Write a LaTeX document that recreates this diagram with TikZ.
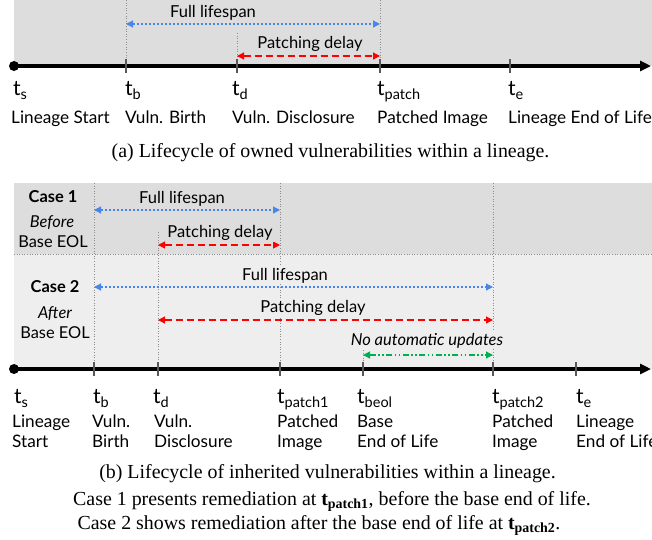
\documentclass[tikz,border=0pt]{standalone}
\usepackage{fontspec}
\setmainfont{Lato}
\newfontfamily\capfont{Liberation Serif}
\usetikzlibrary{arrows.meta}
\definecolor{bgA}{HTML}{DDDDDD}
\definecolor{bgB}{HTML}{EEEEEE}
\definecolor{lsblue}{HTML}{4A86E8}
\definecolor{pdred}{HTML}{FF0000}
\definecolor{nagreen}{HTML}{00B050}
\newcommand\tksub[1]{{\fontsize{21}{24}\selectfont t\raisebox{-4.5pt}{\fontsize{14.5}{16}\selectfont #1}}}
\tikzset{
  guide/.style={draw=black!45, dotted, line width=0.6pt},
  tickmark/.style={draw=black!65, line width=1.2pt},
  axisline/.style={line width=3.2pt, -{Triangle[length=11pt,width=10pt]}},
  span/.style={{Triangle[length=7pt,width=7pt]}-{Triangle[length=7pt,width=7pt]}, line width=1.2pt},
  lifespan/.style={span, lsblue, dash pattern=on 2.5pt off 1.5pt},
  delay/.style={span, pdred, dash pattern=on 7pt off 4pt},
  noauto/.style={span, nagreen, dash pattern=on 6pt off 2.5pt on 1.5pt off 2.5pt on 1.5pt off 2.5pt},
  lbl/.style={font=\fontsize{16.5}{19}\selectfont, inner sep=1.5pt, anchor=base},
  tlbl/.style={anchor=base west, inner sep=0pt},
  desc/.style={anchor=base west, inner sep=0pt, font=\fontsize{17.2}{19.5}\selectfont, align=left},
  caseinfo/.style={anchor=base, inner sep=0pt, font=\fontsize{16.4}{19}\selectfont},
  captext/.style={anchor=base, inner sep=0pt, font=\capfont\fontsize{19.9}{23}\selectfont},
}
\begin{document}
\begin{tikzpicture}[x=1pt,y=-1pt]
\useasboundingbox (0,0) rectangle (652,539);

% ================= panel (a) =================
\fill[bgA] (14,0) rectangle (652,66);
\coordinate (as) at (14,66);
\coordinate (ab) at (126,66);
\coordinate (ad) at (237,66);
\coordinate (ap) at (380,66);
\coordinate (ae) at (510,66);
\coordinate (aend) at (651,66);
\coordinate (abtop) at (126,0);
\coordinate (adtop) at (237,33);
\coordinate (aptop) at (380,0);
\draw[guide] (abtop) -- (ab);
\draw[guide] (adtop) -- (ad);
\draw[guide] (aptop) -- (ap);

\draw[lifespan] (ab |- 0,24) -- (ap |- 0,24);
\draw[delay] (ad |- 0,56) -- (ap |- 0,56);
\node[lbl, fill=bgA] (aFL) at (213,17) {Full lifespan};
\node[lbl, fill=bgA] (aPD) at (310,48) {Patching delay};

\draw[axisline] (as) -- (aend);
\fill (as) circle (5pt);
\foreach \c in {ab,ad,ap,ae} \draw[tickmark] ([yshift=7pt]\c) -- ([yshift=-7pt]\c);

\node[tlbl] (ats) at (13,95) {\tksub{s}};
\node[tlbl] (atb) at (125,95) {\tksub{b}};
\node[tlbl] (atd) at (232,95) {\tksub{d}};
\node[tlbl] (atp) at (377,95) {\tksub{patch}};
\node[tlbl] (ate) at (508,95) {\tksub{e}};
\node[desc] (ads) at (11,123) {Lineage Start};
\node[desc] (adb) at (125,123) {Vuln. Birth};
\node[desc] (add) at (232,123) {Vuln. Disclosure};
\node[desc] (adp) at (377,123) {Patched Image};
\node[desc] (ade) at (508,123) {Lineage End of Life};

\node[captext] (capa) at (330.5,157) {(a) Lifecycle of owned vulnerabilities within a lineage.};

% ================= panel (b) =================
\fill[bgA] (14,183) rectangle (652,254);
\fill[bgB] (14,254) rectangle (652,369);
\coordinate (sepL) at (14,254);
\coordinate (sepR) at (652,254);
\draw[guide] (sepL) -- (sepR);

\coordinate (bs) at (14,369);
\coordinate (bb) at (94,369);
\coordinate (bd) at (158,369);
\coordinate (bp1) at (280,369);
\coordinate (beol) at (363,369);
\coordinate (bp2) at (493,369);
\coordinate (be) at (576,369);
\coordinate (bend) at (651,369);
\coordinate (bbtop) at (94,183);
\coordinate (bdtop) at (158,232);
\coordinate (bp1top) at (280,183);
\coordinate (beoltop) at (363,350);
\coordinate (bp2top) at (493,183);
\draw[guide] (bbtop) -- (bb);
\draw[guide] (bdtop) -- (bd);
\draw[guide] (bp1top) -- (bp1);
\draw[guide] (beoltop) -- (beol);
\draw[guide] (bp2top) -- (bp2);

% case 1
\draw[lifespan] (bb |- 0,210) -- (bp1 |- 0,210);
\draw[delay] (bd |- 0,245) -- (bp1 |- 0,245);
\node[lbl, fill=bgA] (c1FL) at (182,203) {Full lifespan};
\node[lbl, fill=bgA] (c1PD) at (220,237) {Patching delay};
% case 2
\draw[lifespan] (bb |- 0,287) -- (bp2 |- 0,287);
\draw[delay] (bd |- 0,320) -- (bp2 |- 0,320);
\draw[noauto] (beol |- 0,355) -- (bp2 |- 0,355);
\node[lbl, fill=bgB] (c2FL) at (285,280) {Full lifespan};
\node[lbl, fill=bgB] (c2PD) at (313,312) {Patching delay};
\node[lbl, fill=bgB, font=\fontsize{16.5}{19}\selectfont\itshape] (c2NA) at (427,345) {No automatic updates};

\node[caseinfo, font=\fontsize{16.4}{19}\selectfont\bfseries] (c1) at (53,202) {Case 1};
\node[caseinfo, font=\fontsize{16.4}{19}\selectfont\itshape] (c1a) at (52,227) {Before};
\node[caseinfo] (c1b) at (53,247) {Base EOL};
\node[caseinfo, font=\fontsize{16.4}{19}\selectfont\bfseries] (c2) at (55,292) {Case 2};
\node[caseinfo, font=\fontsize{16.4}{19}\selectfont\itshape] (c2a) at (55,318) {After};
\node[caseinfo] (c2b) at (55,338) {Base EOL};

\draw[axisline] (bs) -- (bend);
\fill (bs) circle (5pt);
\foreach \c in {bb,bd,bp1,beol,bp2,be} \draw[tickmark] ([yshift=7pt]\c) -- ([yshift=-7pt]\c);

\node[tlbl] (bts) at (14,403) {\tksub{s}};
\node[tlbl] (btb) at (93,403) {\tksub{b}};
\node[tlbl] (btd) at (153,403) {\tksub{d}};
\node[tlbl] (btp1) at (277,403) {\tksub{patch1}};
\node[tlbl] (bteol) at (357,403) {\tksub{beol}};
\node[tlbl] (btp2) at (492,403) {\tksub{patch2}};
\node[tlbl] (bte) at (576,403) {\tksub{e}};
\node[desc] (bds) at (12,447) {Lineage\\Start};
\node[desc] (bdb) at (92,447) {Vuln.\\Birth};
\node[desc] (bdd) at (154,447) {Vuln.\\Disclosure};
\node[desc] (bdp1) at (277,447) {Patched\\Image};
\node[desc] (bdeol) at (357,447) {Base\\End of Life};
\node[desc] (bdp2) at (492,447) {Patched\\Image};
\node[desc] (bde) at (576,447) {Lineage\\End of Life};

\node[captext] (capb1) at (327.5,478) {(b) Lifecycle of inherited vulnerabilities within a lineage.};
\node[captext] (capb2) at (332,505) {Case 1 presents remediation at \textbf{t\textsubscript{patch1}}, before the base end of life.};
\node[captext] (capb3) at (319,529) {Case 2 shows remediation after the base end of life at \textbf{t\textsubscript{patch2}}.};
\end{tikzpicture}
\end{document}
